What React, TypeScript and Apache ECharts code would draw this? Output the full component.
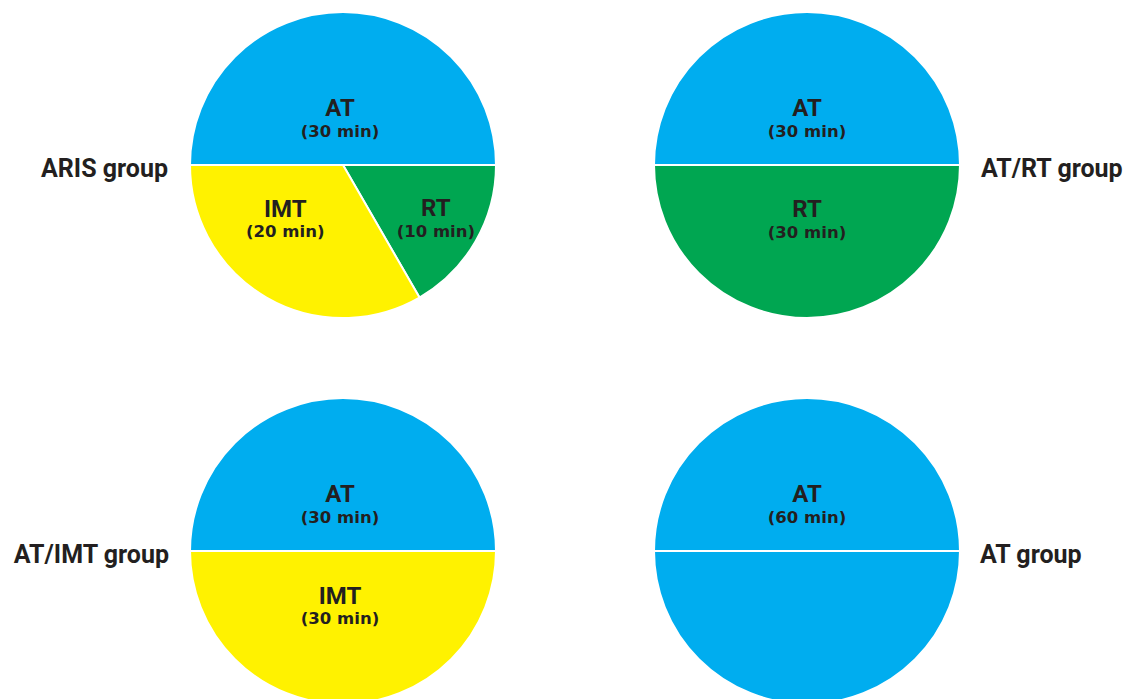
import React, { useEffect, useRef } from "react";
import * as echarts from "echarts";

// Session make-up for each training group (minutes per component)
const groupNames = ["ARIS group", "AT/RT group", "AT/IMT group", "AT group"];

const arisComponents = ["AT", "RT", "IMT"];
const arisMinutes = [30, 10, 20];

const atRtComponents = ["AT", "RT"];
const atRtMinutes = [30, 30];

const atImtComponents = ["AT", "IMT"];
const atImtMinutes = [30, 30];

const atComponents = ["AT", "AT"];
const atMinutes = [30, 30];

const componentColors: Record<string, string> = {
  AT: "#00adef",
  RT: "#00a651",
  IMT: "#fff200",
};

const TEXT = "#231f20";
const RADIUS = 153;

type Panel = {
  name: string;
  components: string[];
  minutes: number[];
  center: [number, number];
  titleX: number;
  titleAlign: "left" | "right";
  // label nudges per slice, from the default "inside" position
  nudges: [number, number][];
};

const panels: Panel[] = [
  {
    name: groupNames[0],
    components: arisComponents,
    minutes: arisMinutes,
    center: [343, 165],
    titleX: 168,
    titleAlign: "right",
    nudges: [[-3, 34], [24, 15], [-18, -13.5]],
  },
  {
    name: groupNames[1],
    components: atRtComponents,
    minutes: atRtMinutes,
    center: [807, 165],
    titleX: 981,
    titleAlign: "left",
    nudges: [[0, 34], [0, -24]],
  },
  {
    name: groupNames[2],
    components: atImtComponents,
    minutes: atImtMinutes,
    center: [343, 551],
    titleX: 169,
    titleAlign: "right",
    nudges: [[-3, 34], [-3, -23.5]],
  },
  {
    name: groupNames[3],
    components: atComponents,
    minutes: atMinutes,
    center: [807, 551],
    titleX: 980,
    titleAlign: "left",
    nudges: [[0, 34], [0, 0]],
  },
];

// One label per component: repeated slices of the same component are summed
function buildData(components: string[], minutes: number[]) {
  return components.map((c, i) => {
    const first = components.indexOf(c) === i;
    const total = minutes.reduce((s, m, j) => (components[j] === c ? s + m : s), 0);
    return {
      name: c,
      value: minutes[i],
      itemStyle: { color: componentColors[c] },
      label: first
        ? { show: true, formatter: `{a|${c}}\n{b|(${total} min)}` }
        : { show: false },
    };
  });
}

export default function App() {
  const ref = useRef<HTMLDivElement>(null);

  useEffect(() => {
    if (!ref.current) return;
    const chart = echarts.init(ref.current, undefined, { renderer: "svg" });

    const series = panels.map((p) => ({
      type: "pie" as const,
      name: p.name,
      center: p.center,
      radius: RADIUS,
      startAngle: 180,
      clockwise: true,
      avoidLabelOverlap: false,
      silent: true,
      itemStyle: { borderColor: "#ffffff", borderWidth: 2 },
      label: {
        position: "inside",
        color: TEXT,
        rich: {
          a: {
            fontFamily: "Roboto",
            fontWeight: "bold",
            fontSize: 24,
            lineHeight: 23,
            color: TEXT,
          },
          b: {
            fontFamily: "DejaVu Sans",
            fontWeight: "bold",
            fontSize: 16.5,
            lineHeight: 23,
            color: TEXT,
          },
        },
      },
      labelLine: { show: false },
      labelLayout: (params: any) => {
        const n = p.nudges[params.dataIndex] || [0, 0];
        return { dx: n[0], dy: n[1] };
      },
      data: buildData(p.components, p.minutes),
    }));

    const graphic = panels.map((p) => ({
      type: "text",
      x: p.titleX,
      y: p.center[1] + 3,
      style: {
        text: p.name,
        fontFamily: "Roboto",
        fontWeight: "bold",
        fontSize: 25,
        fill: TEXT,
        align: p.titleAlign,
        textAlign: p.titleAlign,
        verticalAlign: "middle",
        textVerticalAlign: "middle",
      },
    }));

    chart.setOption({
      animation: false,
      backgroundColor: "#ffffff",
      series,
      graphic,
    });

    return () => chart.dispose();
  }, []);

  return (
    <div
      ref={ref}
      style={{ position: "fixed", left: 0, top: 0, width: 1131, height: 699 }}
    />
  );
}
